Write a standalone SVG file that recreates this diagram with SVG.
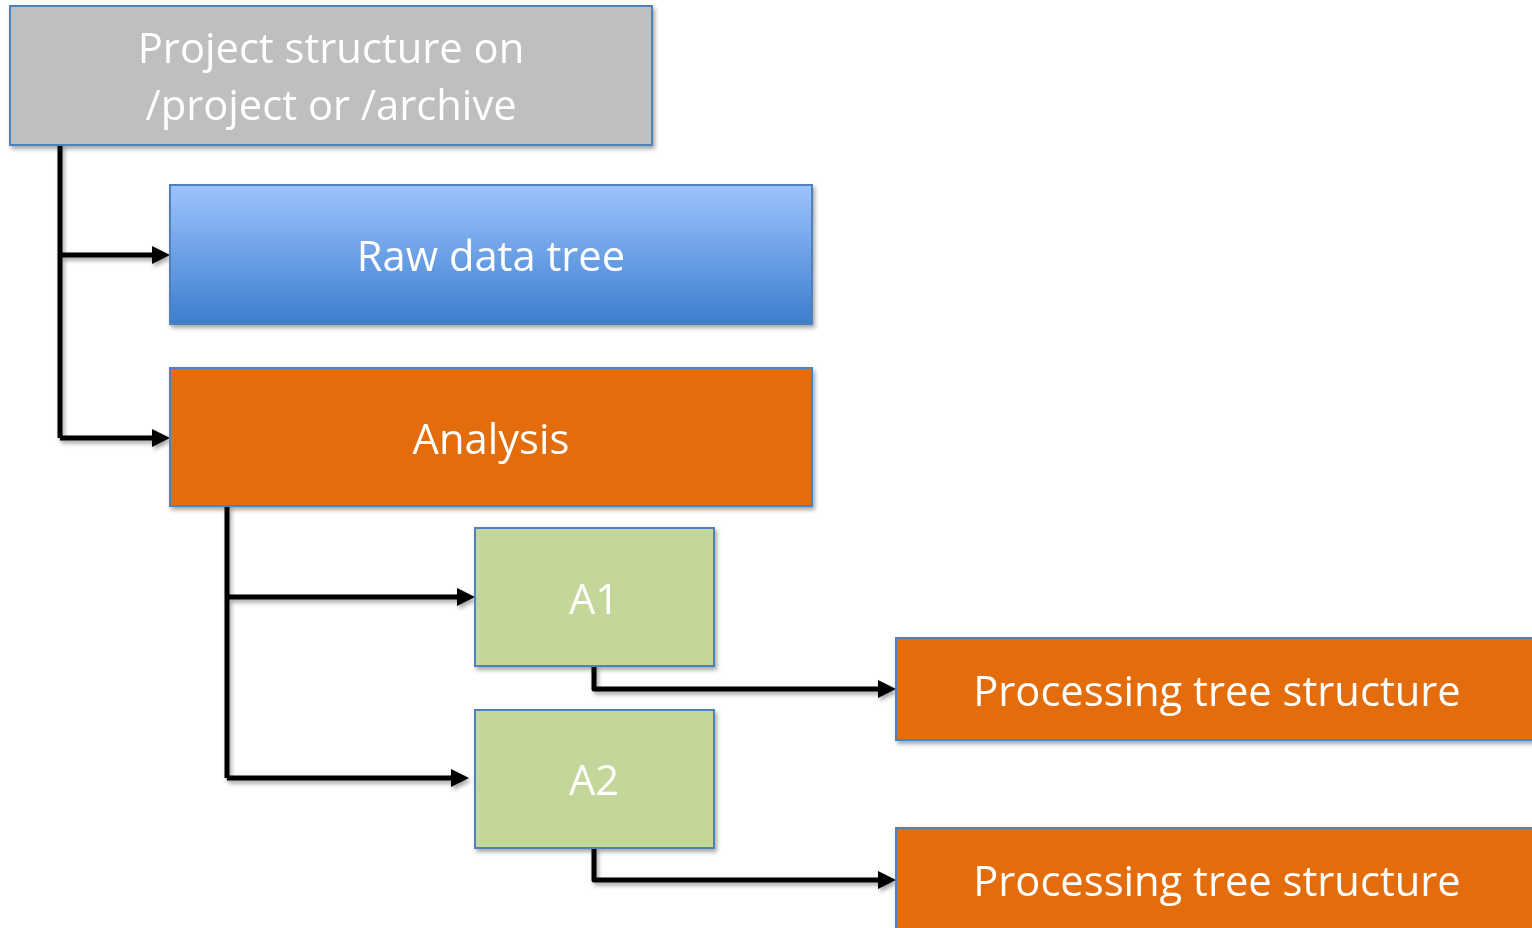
<svg xmlns="http://www.w3.org/2000/svg" width="1532" height="928" viewBox="0 0 1532 928">
  <style>
    .box { stroke: #4f81bd; stroke-width: 2; }
    .lbl { font-family: "Open Sans", "Liberation Sans", sans-serif; font-size: 41.7px; fill: #ffffff; text-anchor: middle; }
    .wire { fill: none; stroke: #000000; stroke-width: 5; stroke-linejoin: round; }
  </style>
  <defs>
    <linearGradient id="blueFill" x1="0" y1="0" x2="0" y2="1">
      <stop offset="0" stop-color="#9dc3fe"/>
      <stop offset="1" stop-color="#3c7ece"/>
    </linearGradient>
    <filter id="shadow" x="-10%" y="-10%" width="120%" height="130%">
      <feDropShadow dx="2" dy="3" stdDeviation="2" flood-color="#000000" flood-opacity="0.35"/>
    </filter>
    <marker id="arrow" markerUnits="userSpaceOnUse" viewBox="0 0 20 20" markerWidth="20" markerHeight="20" refX="18" refY="10" orient="auto">
      <path d="M0,1 L18,10 L0,19 Z" fill="#000000"/>
    </marker>
  </defs>

  <rect width="1532" height="928" fill="#ffffff"/>

  <!-- connectors -->
  <g id="connectors" filter="url(#shadow)">
    <path class="wire" d="M60,145 V438"/>
    <path class="wire" d="M60,255 H158"/>
    <path class="wire" d="M60,438 H158"/>
    <path class="wire" d="M227,506 V778"/>
    <path class="wire" d="M227,597 H463"/>
    <path class="wire" d="M227,778 H457"/>
    <path class="wire" d="M594,666 V689 H884"/>
    <path class="wire" d="M594,848 V880 H884"/>
    <!-- heads -->
    <path d="M152,246 L170,255 L152,264 Z"/>
    <path d="M152,429 L170,438 L152,447 Z"/>
    <path d="M457,588 L475,597 L457,606 Z"/>
    <path d="M451,769 L469,778 L451,787 Z"/>
    <path d="M878,680 L896,689 L878,698 Z"/>
    <path d="M878,871 L896,880 L878,889 Z"/>
  </g>

  <g id="project" filter="url(#shadow)">
    <rect class="box" x="10" y="6" width="642" height="139" fill="#bfbfbf"/>
    <text class="lbl" x="331" y="63">Project structure on</text>
    <text class="lbl" x="331" y="120">/project or /archive</text>
  </g>

  <g id="raw" filter="url(#shadow)">
    <rect class="box" x="170" y="185" width="642" height="139" fill="url(#blueFill)"/>
    <text class="lbl" x="491" y="271">Raw data tree</text>
  </g>

  <g id="analysis" filter="url(#shadow)">
    <rect class="box" x="170" y="368" width="642" height="138" fill="#e36c0a"/>
    <text class="lbl" x="491" y="454">Analysis</text>
  </g>

  <g id="a1" filter="url(#shadow)">
    <rect class="box" x="475" y="528" width="239" height="138" fill="#c4d79b"/>
    <text class="lbl" x="594" y="614">A1</text>
  </g>

  <g id="a2" filter="url(#shadow)">
    <rect class="box" x="475" y="710" width="239" height="138" fill="#c4d79b"/>
    <text class="lbl" x="594" y="795">A2</text>
  </g>

  <g id="proc1" filter="url(#shadow)">
    <rect class="box" x="896" y="638" width="650" height="102" fill="#e36c0a"/>
    <text class="lbl" x="1217" y="706">Processing tree structure</text>
  </g>

  <g id="proc2" filter="url(#shadow)">
    <rect class="box" x="896" y="828" width="650" height="110" fill="#e36c0a"/>
    <text class="lbl" x="1217" y="896">Processing tree structure</text>
  </g>
</svg>
